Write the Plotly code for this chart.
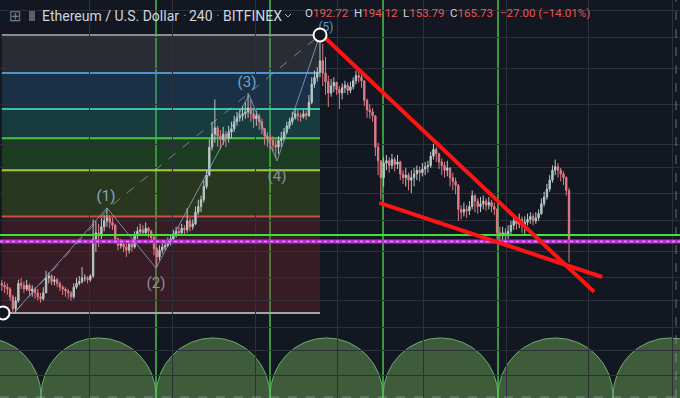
import math
import pandas as pd
import plotly.graph_objects as go

# ---------------- data ----------------
dates = pd.date_range('2019-03-03', periods=206, freq='D')

open_ = [142,141,140,139,135,129,133,142,141,139,
         141,138,139,137,135,134,137,145,146,143,
         144,142,140,139,138,137,135,140,142,143,
         145,145,144,146,168,172,170,176,180,182,
         179,177,168,164,165,163,161,165,163,170,
         173,174,172,175,173,169,162,157,161,163,
         164,166,168,171,173,172,175,174,180,176,
         178,186,190,195,205,214,238,250,256,248,
         245,250,246,252,255,262,266,268,270,272,
         276,270,265,268,262,255,248,246,244,240,
         238,244,246,252,258,262,266,270,268,267,
         270,268,282,302,310,316,330,315,305,292,
         300,304,296,292,298,301,295,299,306,312,
         310,306,284,274,272,268,238,226,212,224,
         226,222,227,223,225,215,212,214,210,212,
         215,218,216,219,221,222,230,236,232,225,
         222,218,220,212,209,206,188,186,188,187,
         190,198,194,190,192,194,191,193,190,188,
         172,170,172,171,173,177,180,178,181,177,
         179,181,183,180,182,185,192,197,203,210,
         218,221,218,215,212,202]
high = [144,143,142,140,136,135,144,145,143,144,
        142,141,140,139,137,140,149,148,147,146,
        145,143,141,140,139,138,142,145,146,151,
        147,146,147,181,180,178,182,184,189,184,
        182,178,169,168,167,165,167,166,173,176,
        178,177,179,176,174,170,163,164,166,167,
        169,171,174,176,176,178,177,189,182,181,
        190,195,198,210,218,245,262,285,258,254,
        257,253,258,262,268,272,274,278,282,292,
        285,274,273,270,265,256,252,250,248,245,
        248,252,256,262,266,272,275,274,271,274,
        273,290,310,318,322,364,352,335,312,308,
        310,305,300,303,306,304,305,310,318,320,
        314,306,286,280,276,268,242,226,229,231,
        229,232,229,231,226,218,220,216,218,220,
        222,221,224,225,226,234,241,238,233,228,
        225,226,220,216,212,207,191,193,191,194,
        202,199,196,197,198,196,197,195,193,189,
        176,176,175,177,180,183,182,185,183,183,
        185,186,185,186,188,196,201,207,214,222,
        227,224,220,217,213,204]
low = [138,137,136,133,127,127,132,139,137,138,
       136,135,134,133,132,133,137,142,141,141,
       140,138,136,135,134,133,134,139,141,142,
       143,142,143,145,160,163,168,173,176,175,
       174,165,161,162,160,157,159,160,162,168,
       171,170,171,169,167,158,151,155,159,161,
       163,164,167,169,170,171,171,172,173,174,
       177,184,186,193,203,213,235,242,238,236,
       240,238,242,246,252,258,262,263,265,266,
       262,256,258,254,250,240,238,236,234,228,
       232,238,244,250,255,259,264,263,262,265,
       264,267,280,298,305,310,300,290,277,288,
       293,290,275,285,292,290,292,296,302,304,
       298,278,266,265,262,230,214,195,205,218,
       216,219,217,219,210,207,205,202,200,205,
       210,209,213,214,216,220,227,225,219,214,
       212,213,205,202,199,180,181,183,182,184,
       188,186,185,186,188,187,188,186,184,168,
       165,167,167,168,171,174,174,175,172,171,
       177,178,177,178,180,184,190,195,201,208,
       214,212,209,206,198,153.79]
close = [141,140,139,135,129,133,142,141,139,141,
         138,139,137,135,134,137,145,146,143,144,
         142,140,139,138,137,135,140,142,143,145,
         145,144,146,168,172,170,176,180,182,179,
         177,168,164,165,163,161,165,163,170,173,
         174,172,175,173,169,162,157,161,163,164,
         166,168,171,173,172,175,174,180,176,178,
         186,190,195,205,214,238,250,256,248,245,
         250,246,252,255,262,266,268,270,272,276,
         270,265,268,262,255,248,246,244,240,238,
         244,246,252,258,262,266,270,268,267,270,
         268,282,302,310,316,330,315,305,292,300,
         304,296,292,298,301,295,299,306,312,310,
         306,284,274,272,268,238,226,212,224,226,
         222,227,223,225,215,212,214,210,212,215,
         218,216,219,221,222,230,236,232,225,222,
         218,220,212,209,206,188,186,188,187,190,
         198,194,190,192,194,191,193,190,188,172,
         170,172,171,173,177,180,178,181,177,179,
         181,183,180,182,185,192,197,203,210,218,
         221,218,215,212,202,165.73]

# Fibonacci retracement levels (price) and span
fib_levels = [364, 315, 275, 246, 218, 183, 127]
fib_start, fib_end = '2019-03-03', '2019-06-26'

# Elliott wave pivots
wave_x = ['2019-03-07 09:50', '2019-04-10 00:24', '2019-04-27 17:30',
          '2019-05-31 08:12', '2019-06-10 11:00', '2019-06-26 00:00']
wave_y = [127, 189, 150.5, 290, 225.8, 364]
wave_labels = ['(1)', '(2)', '(3)', '(4)', '(5)']
label_x = ['2019-04-09 15:30', '2019-04-27 17:30', '2019-05-30 14:50',
           '2019-06-10 11:00', '2019-06-28 04:05']
label_y = [197, 141.7, 303.4, 212.5, 373.7]
label_sizes = [15, 15, 15, 15, 12]
dash_x = ['2019-03-08 03:00', '2019-04-11 02:24', '2019-06-26 00:00']
dash_y = [127.9, 189.7, 364]
circle_x = ['2019-03-03 10:20', '2019-06-26 00:00']
circle_y = [127, 364]

# trend lines (wedge)
upper_x = ['2019-06-26 18:00', '2019-10-03 01:12']
upper_y = [364, 137.5]
lower_x = ['2019-07-17 10:48', '2019-10-05 22:48']
lower_y = [192.6, 145.5]

# horizontal levels
green_level = 170.6
magenta_level = 166.5

# time cycles
cycle_dates = ['2019-02-03 20:24', '2019-03-17 04:05', '2019-04-27 17:30',
               '2019-06-07 22:20', '2019-07-18 18:30', '2019-08-29 08:00',
               '2019-10-09 21:25', '2019-11-20 04:48']

# grid
vgrid_dates = ['2019-04-03 20:24', '2019-05-03 13:12', '2019-06-02 13:12',
               '2019-07-02 03:36', '2019-08-02 06:00', '2019-09-01 13:12',
               '2019-09-30 20:24', '2019-10-31 06:00']
hgrid_prices = [100, 110, 120, 133, 145.5, 160, 180, 200, 220, 240, 280, 320, 360, 400]

X0, X1 = '2019-03-02 08:24', '2019-11-03 02:24'
Y0, Y1 = 92.0, 415.5

# ---------------- styling ----------------
BG = '#131722'
GRID = '#2c303b'
W, H = 680, 398
def px(x): return x / W
def py(y): return 1 - y / H

fib_line_colors = ['#8a8d94', '#4f93c9', '#3bbfa6', '#4cc04c', '#a8c83c', '#c8503c', '#a6a6a6']
band_fills = ['rgba(96,93,94,0.30)', 'rgba(39,106,154,0.30)', 'rgba(29,146,127,0.30)',
              'rgba(49,146,37,0.30)', 'rgba(96,130,27,0.30)', 'rgba(139,36,47,0.30)']

fig = go.Figure()

shapes = []
for i in range(len(fib_levels) - 1):
    shapes.append(dict(type='rect', xref='x', yref='y', x0=fib_start, x1=fib_end,
                       y0=fib_levels[i + 1], y1=fib_levels[i], fillcolor=band_fills[i],
                       line=dict(width=0), layer='below'))
for lv, c in zip(fib_levels, fib_line_colors):
    shapes.append(dict(type='line', xref='x', yref='y', x0=fib_start, x1=fib_end,
                       y0=lv, y1=lv, line=dict(color=c, width=2), layer='below'))
# cycle arcs
for a, b in zip(cycle_dates[:-1], cycle_dates[1:]):
    shapes.append(dict(type='circle', xref='x', yref='paper', x0=a, x1=b,
                       y0=-0.141, y1=0.151, fillcolor='rgba(105,161,82,0.5)',
                       line=dict(color='rgba(110,190,120,0.85)', width=1), layer='below'))
# cycle vertical lines
for d in cycle_dates[2:6]:
    shapes.append(dict(type='line', xref='x', yref='paper', x0=d, x1=d, y0=0, y1=1,
                       line=dict(color='#4cc24c', width=1.5), layer='below'))
# frame dashes
shapes.append(dict(type='line', xref='paper', yref='paper', x0=px(676), x1=px(676), y0=0, y1=1,
                   line=dict(color='rgba(180,180,190,0.55)', width=1, dash='dash'), layer='above'))
shapes.append(dict(type='line', xref='paper', yref='paper', x0=0, x1=1, y0=py(397), y1=py(397),
                   line=dict(color='rgba(180,180,190,0.55)', width=1, dash='dash'), layer='above'))
# header flag icon
shapes.append(dict(type='rect', xref='paper', yref='paper', x0=px(29), x1=px(35), y0=py(21), y1=py(11),
                   fillcolor='#5d606b', line=dict(width=0), layer='above'))
# chevron
shapes.append(dict(type='path', xref='paper', yref='paper',
                   path=f'M {px(285)} {py(14)} L {px(288)} {py(17)} L {px(291)} {py(14)}',
                   line=dict(color='#b2b5be', width=1), layer='above'))

fig.add_trace(go.Candlestick(
    x=dates, open=open_, high=high, low=low, close=close,
    increasing=dict(line=dict(color='#b8c9c6', width=1), fillcolor='#b8c9c6'),
    decreasing=dict(line=dict(color='#e07b86', width=1), fillcolor='#e07b86'),
    whiskerwidth=0, hoverinfo='skip'))

# horizontal levels
fig.add_trace(go.Scatter(x=[X0, X1], y=[green_level, green_level], mode='lines',
                         line=dict(color='#3fe03f', width=2), hoverinfo='skip'))
fig.add_trace(go.Scatter(x=[X0, X1], y=[magenta_level, magenta_level], mode='lines',
                         line=dict(color='#b433d0', width=4), hoverinfo='skip'))
fig.add_trace(go.Scatter(x=[X0, X1], y=[magenta_level, magenta_level], mode='lines',
                         line=dict(color='#e98cf5', width=1.5, dash='dot'), hoverinfo='skip'))

# wave lines
fig.add_trace(go.Scatter(x=dash_x, y=dash_y, mode='lines',
                         line=dict(color='rgba(190,195,205,0.55)', width=1, dash='dash'), hoverinfo='skip'))
fig.add_trace(go.Scatter(x=wave_x, y=wave_y, mode='lines',
                         line=dict(color='rgba(140,175,210,0.75)', width=1), hoverinfo='skip'))

# red wedge
fig.add_trace(go.Scatter(x=upper_x, y=upper_y, mode='lines',
                         line=dict(color='#ff1414', width=4), hoverinfo='skip'))
fig.add_trace(go.Scatter(x=lower_x, y=lower_y, mode='lines',
                         line=dict(color='#ff1414', width=4), hoverinfo='skip'))

# labels
label_colors = ['#86aac6', '#8a929c', '#6fa2cc', '#8a929c', '#5d9bd6']
fig.add_trace(go.Scatter(x=label_x, y=label_y, mode='text', text=wave_labels,
                         textfont=dict(family='Roboto', size=label_sizes, color=label_colors),
                         hoverinfo='skip'))
# circles
fig.add_trace(go.Scatter(x=circle_x, y=circle_y, mode='markers',
                         marker=dict(symbol='circle', size=13, color=BG,
                                     line=dict(color='#ffffff', width=2)),
                         hoverinfo='skip'))

FONT = 'Roboto'
TXT = '#d1d4dc'
RED = '#ef5350'
ann = []
def add_text(x, y, text, size=14, color=TXT, family=FONT):
    ann.append(dict(xref='paper', yref='paper', x=px(x), y=py(y), text=text, showarrow=False,
                    xanchor='left', yanchor='middle', xshift=-1,
                    font=dict(family=family, size=size, color=color)))
add_text(8, 16, '⊞', size=15, color='#787b86', family='DejaVu Sans')
add_text(41, 16, 'Ethereum / U.S. Dollar')
add_text(182, 16, '·', color='#787b86')
add_text(188, 16, '240')
add_text(215, 16, '·', color='#787b86')
add_text(222, 16, 'BITFINEX')
for xx, k, v in [(304, 'O', '192.72'), (353, 'H', '194.12'), (402, 'L', '153.79'), (449, 'C', '165.73')]:
    add_text(xx, 13, f'{k}<span style="color:{RED}">{v}</span>', size=11.5)
add_text(499, 13, '−27.00 (−14.01%)', size=11.5, color=RED)

fig.update_layout(
    width=W, height=H, margin=dict(l=0, r=0, t=0, b=0),
    paper_bgcolor=BG, plot_bgcolor=BG, showlegend=False,
    shapes=shapes, annotations=ann,
    xaxis=dict(type='date', range=[X0, X1], tickvals=vgrid_dates, showticklabels=False,
               showgrid=True, gridcolor=GRID, gridwidth=1, zeroline=False, showline=False,
               ticks='', rangeslider=dict(visible=False), fixedrange=True),
    yaxis=dict(type='log', range=[math.log10(Y0), math.log10(Y1)], tickvals=hgrid_prices,
               showticklabels=False, showgrid=True, gridcolor=GRID, gridwidth=1,
               zeroline=False, showline=False, ticks='', fixedrange=True),
)

fig.write_html('out.html', config=dict(displayModeBar=False, staticPlot=True),
               post_script="document.body.style.margin='0';document.body.style.padding='0';"
                           "document.body.style.background='#131722';")
